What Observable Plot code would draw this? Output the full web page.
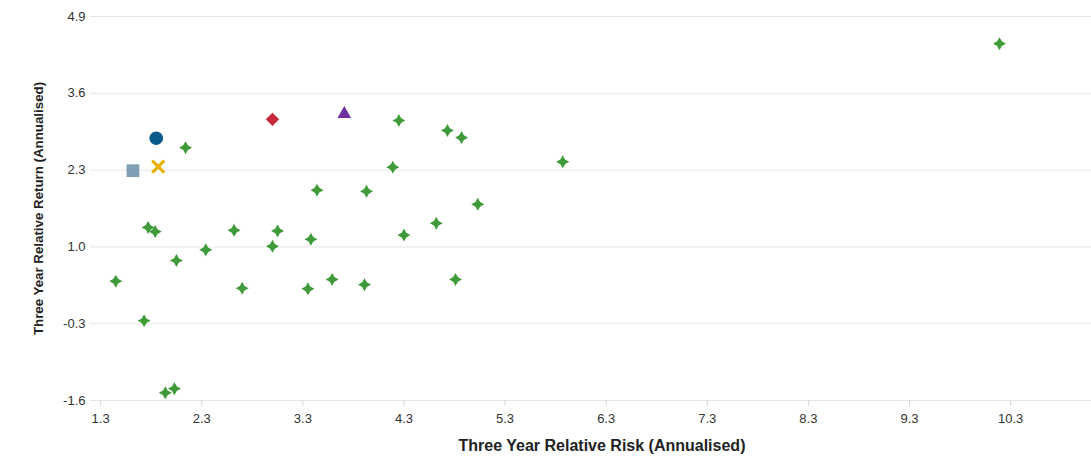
<!DOCTYPE html>
<html>
<head>
<meta charset="utf-8">
<script src="https://cdn.jsdelivr.net/npm/d3@7"></script>
<script src="https://cdn.jsdelivr.net/npm/@observablehq/plot@0.6"></script>
<style>
  html, body { margin: 0; padding: 0; background: #fff; }
  #chart { width: 1091px; height: 462px; }
</style>
</head>
<body>
<div id="chart"></div>
<script>
// ---- Data ----
const peerRisk = [2.14, 1.45, 1.77, 1.84, 1.73, 2.05, 1.94, 2.03, 2.34, 2.62, 2.70, 3.00, 3.05,
                  3.35, 3.38, 3.44, 3.59, 3.91, 3.93, 4.19, 4.25, 4.30, 4.62, 4.73, 4.81, 4.87, 5.03, 5.87, 10.19];
const peerReturn = [2.68, 0.42, 1.33, 1.26, -0.25, 0.77, -1.47, -1.40, 0.95, 1.28, 0.30, 1.01, 1.27,
                    0.29, 1.13, 1.96, 0.45, 0.36, 1.94, 2.35, 3.14, 1.20, 1.40, 2.97, 0.45, 2.85, 1.72, 2.44, 4.44];

const circleRisk = [1.85],   circleReturn = [2.84];
const squareRisk = [1.62],   squareReturn = [2.29];
const crossRisk = [1.87],    crossReturn = [2.36];
const diamondRisk = [3.00],  diamondReturn = [3.16];
const triangleRisk = [3.71], triangleReturn = [3.25];

const xTicks = [1.3, 2.3, 3.3, 4.3, 5.3, 6.3, 7.3, 8.3, 9.3, 10.3];
const yTicks = [-1.6, -0.3, 1.0, 2.3, 3.6, 4.9];
const xTitle = "Three Year Relative Risk (Annualised)";
const yTitle = "Three Year Relative Return (Annualised)";

// ---- Build tables ----
const toRows = (xs, ys) => xs.map((x, i) => ({x, y: ys[i]}));
const peers = toRows(peerRisk, peerReturn);

// four-pointed star symbol
const sparkle = {
  draw(ctx, size) {
    const r = Math.sqrt(size / Math.PI);
    const i = r * 0.36;
    ctx.moveTo(0, -r); ctx.lineTo(i, -i); ctx.lineTo(r, 0); ctx.lineTo(i, i);
    ctx.lineTo(0, r); ctx.lineTo(-i, i); ctx.lineTo(-r, 0); ctx.lineTo(-i, -i);
    ctx.closePath();
  }
};

const fmt = d => d.toFixed(1);

const chart = Plot.plot({
  width: 1091,
  height: 462,
  marginLeft: 90,
  marginRight: 0,
  marginTop: 16,
  marginBottom: 62,
  style: {fontFamily: "'Liberation Sans', Arial, sans-serif", fontSize: "13px", color: "#333", background: "#fff"},
  x: {domain: [1.2, 11.1]},
  y: {domain: [-1.6, 4.9]},
  marks: [
    Plot.gridY(yTicks, {stroke: "#e6e6e6", strokeOpacity: 1, strokeWidth: 1}),
    Plot.axisY(yTicks, {tickSize: 0, tickPadding: 5, tickFormat: fmt, label: null, fontSize: 13, fill: "#333"}),
    Plot.axisX(xTicks, {tickSize: 6, tickPadding: 7, tickFormat: fmt, label: null, stroke: "#d8d8d8", fontSize: 13, fill: "#333"}),
    Plot.text([xTitle], {frameAnchor: "bottom", dx: 11, dy: 50, fontWeight: "bold", fontSize: 16, fill: "#222"}),
    Plot.text([yTitle], {frameAnchor: "left", textAnchor: "middle", dx: -52, rotate: -90, fontWeight: "bold", fontSize: 13.3, fill: "#222"}),
    Plot.dot(peers, {x: "x", y: "y", symbol: sparkle, r: 6.5, fill: "#3f9b3a"}),
    Plot.dot(toRows(squareRisk, squareReturn), {x: "x", y: "y", symbol: "square", r: 7.2, fill: "#7f9fb5"}),
    Plot.dot(toRows(circleRisk, circleReturn), {x: "x", y: "y", symbol: "circle", r: 6.8, fill: "#0b5a8c"}),
    Plot.dot(toRows(crossRisk, crossReturn), {x: "x", y: "y", symbol: "times", r: 5.5, stroke: "#e8b000", strokeWidth: 3.2}),
    Plot.dot(toRows(diamondRisk, diamondReturn), {x: "x", y: "y", symbol: "diamond2", r: 6, fill: "#c8263a"}),
    Plot.dot(toRows(triangleRisk, triangleReturn), {x: "x", y: "y", symbol: "triangle2", r: 6.5, fill: "#7030a0"})
  ]
});

document.getElementById("chart").appendChild(chart);
</script>
</body>
</html>
